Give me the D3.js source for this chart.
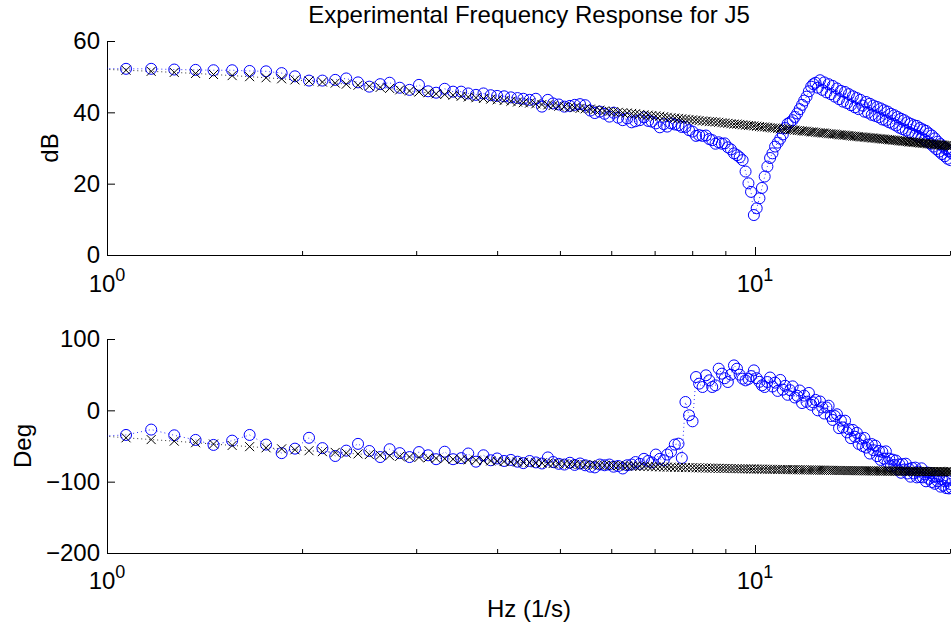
<!DOCTYPE html>
<html>
<head>
<meta charset="utf-8">
<title>Experimental Frequency Response for J5</title>
<script src="https://cdn.jsdelivr.net/npm/d3@7"></script>
<style>
  html, body { margin: 0; padding: 0; background: #fff; }
  svg { display: block; }
  text { font-family: "Liberation Sans", Arial, Helvetica, sans-serif; fill: #000; }
  .axis path, .axis line { stroke: #000; stroke-width: 1; }
  .axis text { font-size: 24px; font-family: "Liberation Sans", Arial, sans-serif; fill: #000; }
</style>
</head>
<body>
<svg id="chart" width="951" height="627"></svg>
<script>
// Frequency bins (Hz), first one lies just left of the axis and is clipped.
const freqHz = [0.98,1.07,1.17,1.27,1.37,1.46,1.56,1.66,1.76,1.86,1.95,
  2.05,2.15,2.25,2.34,2.44,2.54,2.64,2.73,2.83,2.93,
  3.03,3.13,3.22,3.32,3.42,3.52,3.61,3.71,3.81,3.91,
  4.00,4.10,4.20,4.30,4.39,4.49,4.59,4.69,4.79,4.88,
  4.98,5.08,5.18,5.27,5.37,5.47,5.57,5.66,5.76,5.86,
  5.96,6.05,6.15,6.25,6.35,6.45,6.54,6.64,6.74,6.84,
  6.93,7.03,7.13,7.23,7.32,7.42,7.52,7.62,7.71,7.81,
  7.91,8.01,8.11,8.20,8.30,8.40,8.50,8.59,8.69,8.79,
  8.89,8.98,9.08,9.18,9.28,9.38,9.47,9.57,9.67,9.77,
  9.86,9.96,10.06,10.16,10.25,10.35,10.45,10.55,10.64,10.74,
  10.84,10.94,11.04,11.13,11.23,11.33,11.43,11.52,11.62,11.72,
  11.82,11.91,12.01,12.11,12.21,12.30,12.40,12.50,12.60,12.70,
  12.79,12.89,12.99,13.09,13.18,13.28,13.38,13.48,13.57,13.67,
  13.77,13.87,13.96,14.06,14.16,14.26,14.36,14.45,14.55,14.65,
  14.75,14.84,14.94,15.04,15.14,15.23,15.33,15.43,15.53,15.63,
  15.72,15.82,15.92,16.02,16.11,16.21,16.31,16.41,16.50,16.60,
  16.70,16.80,16.89,16.99,17.09,17.19,17.29,17.38,17.48,17.58,
  17.68,17.77,17.87,17.97,18.07,18.16,18.26,18.36,18.46,18.55,
  18.65,18.75,18.85,18.95,19.04,19.14,19.24,19.34,19.43,19.53,
  19.63,19.73,19.82,19.92,20.02,20.12];

// Magnitude, fitted model (black x)
const magModel = [52.1,51.8,51.5,51.2,50.9,50.6,50.3,50.0,49.7,49.4,49.1,
  48.8,48.5,48.2,47.9,47.6,47.3,47.0,46.7,46.3,46.0,
  45.7,45.5,45.2,45.0,44.8,44.5,44.3,44.1,43.9,43.7,
  43.5,43.3,43.1,42.9,42.7,42.6,42.4,42.2,42.1,41.9,
  41.7,41.6,41.4,41.3,41.1,41.0,40.9,40.7,40.6,40.4,
  40.3,40.2,40.0,39.9,39.8,39.7,39.6,39.4,39.3,39.2,
  39.1,39.0,38.9,38.8,38.6,38.5,38.4,38.3,38.2,38.1,
  38.0,37.9,37.8,37.7,37.6,37.5,37.4,37.4,37.3,37.2,
  37.1,37.0,36.9,36.8,36.7,36.7,36.6,36.5,36.4,36.3,
  36.3,36.2,36.1,36.0,35.9,35.9,35.8,35.7,35.6,35.6,
  35.5,35.4,35.4,35.3,35.2,35.1,35.1,35.0,34.9,34.9,
  34.8,34.7,34.7,34.6,34.5,34.5,34.4,34.3,34.3,34.2,
  34.2,34.1,34.0,34.0,33.9,33.9,33.8,33.7,33.7,33.6,
  33.6,33.5,33.5,33.4,33.3,33.3,33.2,33.2,33.1,33.1,
  33.0,33.0,32.9,32.9,32.8,32.8,32.7,32.7,32.6,32.6,
  32.5,32.5,32.4,32.4,32.3,32.3,32.2,32.2,32.1,32.1,
  32.0,32.0,31.9,31.9,31.8,31.8,31.7,31.7,31.6,31.6,
  31.6,31.5,31.5,31.4,31.4,31.3,31.3,31.3,31.2,31.2,
  31.1,31.1,31.0,31.0,31.0,30.9,30.9,30.8,30.8,30.8,
  30.7,30.7,30.6,30.6,30.6,30.5];

// Magnitude, measured (blue o)
const magMeas = [52.3,52.2,52.2,52.0,51.9,51.8,51.8,51.6,51.5,51.0,50.1,
  48.9,48.9,49.1,49.5,48.4,47.2,47.9,48.3,46.9,46.3,
  47.7,45.9,45.5,46.6,45.8,45.8,45.3,44.9,45.3,44.8,
  44.6,44.5,44.2,44.0,43.8,43.5,43.8,41.6,43.5,42.5,
  42.2,41.6,41.8,42.1,42.3,42.0,40.5,39.8,40.2,39.6,
  38.8,39.9,38.5,37.8,38.3,37.2,37.5,37.8,38.6,37.6,
  37.4,36.9,35.8,36.7,36.0,36.9,36.6,36.4,35.9,35.9,
  35.0,34.6,33.4,33.6,33.4,33.5,32.5,32.2,31.2,31.6,
  31.2,31.3,30.2,29.6,28.5,28.0,27.4,26.6,23.4,20.1,
  17.7,11.2,13.1,15.9,18.8,22.0,24.8,27.2,28.5,30.4,
  31.5,32.6,33.8,35.6,36.8,37.2,37.8,38.7,39.7,40.9,
  42.1,43.3,44.4,45.9,47.2,47.9,48.3,46.9,49.0,46.3,
  48.4,45.6,47.9,45.1,47.4,44.4,46.7,43.7,46.0,43.0,
  45.7,42.6,45.1,42.0,44.5,41.4,44.0,40.9,43.5,41.9,
  40.2,42.9,39.9,42.4,39.3,41.9,39.0,41.5,38.6,41.1,
  38.0,40.6,37.7,40.2,37.2,39.6,36.8,39.2,36.3,38.7,
  35.7,38.2,35.3,37.8,34.9,37.2,34.4,36.8,34.0,36.4,
  33.6,36.2,33.2,35.6,32.9,35.2,32.3,34.8,31.8,34.1,
  31.2,33.5,30.4,32.7,29.7,31.8,29.0,31.1,28.3,30.4,
  27.7,29.7,27.0,29.1,26.6,28.5];

// Phase, fitted model (black x)
const phaseModel = [-35.9,-38.5,-41.0,-43.2,-45.4,-47.3,-49.2,-50.9,-52.5,-54.0,-55.3,
  -56.6,-57.9,-59.0,-60.1,-61.1,-62.0,-62.9,-63.7,-64.5,-65.3,
  -66.0,-66.6,-67.3,-67.9,-68.5,-69.0,-69.5,-70.0,-70.5,-70.9,
  -71.4,-71.8,-72.2,-72.6,-72.9,-73.3,-73.6,-73.9,-74.2,-74.6,
  -74.9,-75.1,-75.4,-75.7,-75.9,-76.2,-76.4,-76.6,-76.8,-77.0,
  -77.2,-77.4,-77.6,-77.8,-78.0,-78.2,-78.3,-78.5,-78.7,-78.8,
  -79.0,-79.1,-79.3,-79.4,-79.6,-79.7,-79.8,-80.0,-80.1,-80.2,
  -80.3,-80.4,-80.6,-80.7,-80.8,-80.9,-81.0,-81.1,-81.2,-81.3,
  -81.4,-81.5,-81.5,-81.6,-81.7,-81.8,-81.9,-82.0,-82.0,-82.1,
  -82.2,-82.3,-82.3,-82.4,-82.5,-82.5,-82.6,-82.7,-82.7,-82.8,
  -82.9,-82.9,-83.0,-83.0,-83.1,-83.2,-83.2,-83.3,-83.3,-83.4,
  -83.4,-83.5,-83.5,-83.6,-83.6,-83.7,-83.7,-83.8,-83.8,-83.9,
  -83.9,-84.0,-84.0,-84.1,-84.1,-84.2,-84.2,-84.3,-84.3,-84.4,
  -84.4,-84.4,-84.5,-84.5,-84.5,-84.6,-84.6,-84.6,-84.7,-84.7,
  -84.8,-84.8,-84.8,-84.9,-84.9,-84.9,-85.0,-85.0,-85.0,-85.1,
  -85.1,-85.1,-85.1,-85.2,-85.2,-85.2,-85.2,-85.3,-85.3,-85.3,
  -85.4,-85.4,-85.4,-85.4,-85.5,-85.5,-85.5,-85.5,-85.6,-85.6,
  -85.6,-85.6,-85.7,-85.7,-85.7,-85.7,-85.7,-85.8,-85.8,-85.8,
  -85.8,-85.8,-85.9,-85.9,-85.9,-85.9,-85.9,-86.0,-86.0,-86.0,
  -86.0,-86.0,-86.1,-86.1,-86.1,-86.2];

// Phase, measured (blue o)
const phaseMeas = [-36,-34.5,-27,-35,-41.5,-48.5,-42.5,-34.5,-48,-60,-53.7,
  -38.5,-53,-64,-56.5,-47,-57,-65.5,-54.5,-60,-65.5,
  -58.5,-63,-68.5,-58,-68.5,-67,-60.5,-72,-63,-70,
  -67.5,-71,-69.5,-72,-74,-71,-73,-74.5,-66,-72.5,
  -75,-76,-73.5,-76.5,-74.5,-77,-79,-80,-76,-77,
  -76,-79,-78,-81.5,-77,-76,-72.5,-75,-68,-71,
  -73,-62,-68,-70,-62,-58,-48,-46.7,-66.8,11.7,
  -7,-15.4,46.7,37.4,32.7,49.1,42.1,32.7,35,58.4,
  51.4,45,39.7,50,63,58.4,50,44.4,42,44,
  48,56,45,40,35,32.7,39.7,46,33.4,38.8,
  27.2,42.6,29,34.4,21.8,28.2,33.6,18,20.4,27.8,
  10.2,20.6,12,24.4,7.8,11.2,14.6,0,12.4,4,
  -4.5,4,6.5,-8,-13.5,-8,-5.5,-25,-14.5,-24,
  -14.5,-31,-26.5,-39,-27.5,-37,-31.5,-47,-39.5,-50,
  -38.7,-52.3,-48,-60.6,-47.3,-55.9,-49.6,-64.2,-56.9,-69.5,
  -58.2,-67.8,-57.5,-73.1,-67.8,-78.4,-69.1,-76.7,-70.4,-83,
  -75.8,-87.5,-75.3,-83,-74.8,-88.5,-82.3,-93,-80.8,-88.5,
  -80.3,-94,-85.8,-93.5,-81.3,-94,-89.8,-99.5,-87.3,-96,
  -87.8,-100.5,-93.3,-103,-92.8,-99.5,-92.3,-107,-96.8,-105.5,
  -99.3,-109,-98.8,-109.5,-103.3,-109];

const magTicks = [0, 20, 40, 60];
const phaseTicks = [-200, -100, 0, 100];
const decadeTicks = [1, 10];
const minorTicks = [2, 3, 4, 5, 6, 7, 8, 9, 20];

const W = 951, H = 627;
const left = 107, decade = 648;
const right = left + decade * Math.log10(20);

const svg = d3.select('#chart');

const x = d3.scaleLog().domain([1, 20]).range([left, right]);

const fmt = (d) => (d < 0 ? '\u2212' + Math.abs(d) : String(d));

function panel(opts) {
  const y = d3.scaleLinear().domain(opts.domain).range([opts.bottom, opts.top]);
  const g = svg.append('g');

  const clipId = 'clip-' + opts.id;
  svg.append('clipPath').attr('id', clipId)
    .append('rect')
    .attr('x', left).attr('y', opts.top - 20)
    .attr('width', W - left).attr('height', opts.bottom - opts.top + 40);

  // y axis, ticks pointing inward
  g.append('g')
    .attr('class', 'axis')
    .attr('transform', `translate(${left},0)`)
    .call(d3.axisLeft(y).tickValues(opts.ticks).tickFormat(fmt)
      .tickSizeInner(-8).tickSizeOuter(0).tickPadding(7));

  // x axis: decade ticks plus minor ticks
  g.append('g')
    .attr('class', 'axis')
    .attr('transform', `translate(0,${opts.bottom})`)
    .call(d3.axisBottom(x).tickValues(decadeTicks).tickFormat('')
      .tickSizeInner(-8).tickSizeOuter(0));
  g.append('g')
    .attr('class', 'axis')
    .attr('transform', `translate(0,${opts.bottom})`)
    .call(d3.axisBottom(x).tickValues(minorTicks).tickFormat('')
      .tickSizeInner(-4).tickSizeOuter(0))
    .select('.domain').remove();

  // 10^n labels
  const lbl = g.selectAll('text.dec').data(decadeTicks).join('text')
    .attr('class', 'dec')
    .attr('x', (d) => x(d))
    .attr('y', opts.bottom + opts.labelGap)
    .attr('text-anchor', 'middle')
    .style('font-size', '24px');
  lbl.append('tspan').text('10');
  lbl.append('tspan').attr('dy', -11).style('font-size', '18px')
    .text((d) => String(Math.round(Math.log10(d))));

  // y label
  g.append('text')
    .attr('transform', `translate(${opts.ylabelX},${(opts.top + opts.bottom) / 2}) rotate(-90)`)
    .attr('text-anchor', 'middle')
    .style('font-size', '24px')
    .text(opts.ylabel);

  const plot = g.append('g').attr('clip-path', `url(#${clipId})`);
  const line = (vals) => d3.line()
    .x((d, i) => x(freqHz[i]))
    .y((d) => y(d))(vals);

  // measured: blue circles with dotted line
  plot.append('path')
    .attr('d', line(opts.meas))
    .attr('fill', 'none').attr('stroke', '#0000ff')
    .attr('stroke-width', 0.8).attr('stroke-dasharray', '1,3');
  plot.selectAll('circle').data(opts.meas).join('circle')
    .attr('cx', (d, i) => x(freqHz[i]))
    .attr('cy', (d) => y(d))
    .attr('r', 5.5)
    .attr('fill', 'none').attr('stroke', '#0000ff').attr('stroke-width', 1);

  // model: black x with dotted line
  plot.append('path')
    .attr('d', line(opts.model))
    .attr('fill', 'none').attr('stroke', '#000')
    .attr('stroke-width', 0.8).attr('stroke-dasharray', '1,3');
  plot.selectAll('path.xm').data(opts.model).join('path')
    .attr('class', 'xm')
    .attr('transform', (d, i) => `translate(${x(freqHz[i])},${y(d)})`)
    .attr('d', 'M-4.5,-4.5L4.5,4.5M-4.5,4.5L4.5,-4.5')
    .attr('fill', 'none').attr('stroke', '#000').attr('stroke-width', 1);
}

panel({ id: 'mag', domain: [0, 60], top: 41, bottom: 255, ticks: magTicks,
  ylabel: 'dB', ylabelX: 58, labelGap: 37, model: magModel, meas: magMeas });
panel({ id: 'phase', domain: [-200, 100], top: 339, bottom: 553, ticks: phaseTicks,
  ylabel: 'Deg', ylabelX: 31, labelGap: 35.5, model: phaseModel, meas: phaseMeas });

svg.append('text')
  .attr('x', (left + W) / 2).attr('y', 22.5)
  .attr('text-anchor', 'middle')
  .style('font-size', '24px')
  .text('Experimental Frequency Response for J5');

svg.append('text')
  .attr('x', (left + W) / 2).attr('y', 617)
  .attr('text-anchor', 'middle')
  .style('font-size', '24px')
  .text('Hz (1/s)');
</script>
</body>
</html>
